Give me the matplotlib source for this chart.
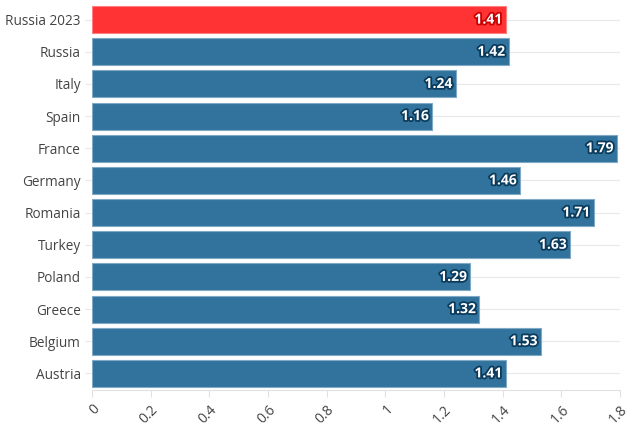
import matplotlib.pyplot as plt
import matplotlib.patheffects as pe

countries = ['Russia 2023', 'Russia', 'Italy', 'Spain', 'France', 'Germany',
             'Romania', 'Turkey', 'Poland', 'Greece', 'Belgium', 'Austria']
values = [1.41, 1.42, 1.24, 1.16, 1.79, 1.46, 1.71, 1.63, 1.29, 1.32, 1.53, 1.41]
ticks = [0, 0.2, 0.4, 0.6, 0.8, 1, 1.2, 1.4, 1.6, 1.8]
tick_labels = ['0', '0.2', '0.4', '0.6', '0.8', '1', '1.2', '1.4', '1.6', '1.8']

plt.rcParams['font.family'] = ['Open Sans', 'DejaVu Sans']

fig = plt.figure(figsize=(6.42, 4.28), dpi=100)
ax = fig.add_axes([92 / 642, 1 - 389.5 / 428, 528 / 642, 386 / 428])

colors = ['#ff3333' if c == 'Russia 2023' else '#31739c' for c in countries]
edges = ['#ff8080' if c == 'Russia 2023' else '#7fa9c4' for c in countries]
y = list(range(len(countries)))
ax.barh(y, values, height=0.84, color=colors, edgecolor=edges, linewidth=0.8, zorder=3)

for i, v in enumerate(values):
    stroke = '#cc0000' if countries[i] == 'Russia 2023' else '#0b3b5c'
    ax.text(v - 0.012, i, f'{v:.2f}', ha='right', va='center', color='white',
            fontsize=10, fontweight='bold', zorder=4,
            path_effects=[pe.withStroke(linewidth=2.6, foreground=stroke)])

ax.set_ylim(len(countries) - 0.5, -0.5)
ax.set_xlim(0, 1.8)
ax.set_yticks(y)
ax.set_yticklabels(countries, fontsize=9.8, color='#444444')
ax.set_xticks(ticks)
ax.set_xticklabels(tick_labels, fontsize=10, color='#444444', rotation=45,
                   ha='right', va='top', rotation_mode='anchor')

ax.grid(axis='y', color='#e8e8e8', linewidth=0.8, zorder=0)
for s in ['top', 'right', 'left']:
    ax.spines[s].set_visible(False)
ax.spines['bottom'].set_color('#e0e0e0')
ax.tick_params(axis='y', length=5, color='#e8e8e8', pad=3)
ax.tick_params(axis='x', length=5, color='#e0e0e0', pad=4)

fig.savefig('out.png', dpi=100)
